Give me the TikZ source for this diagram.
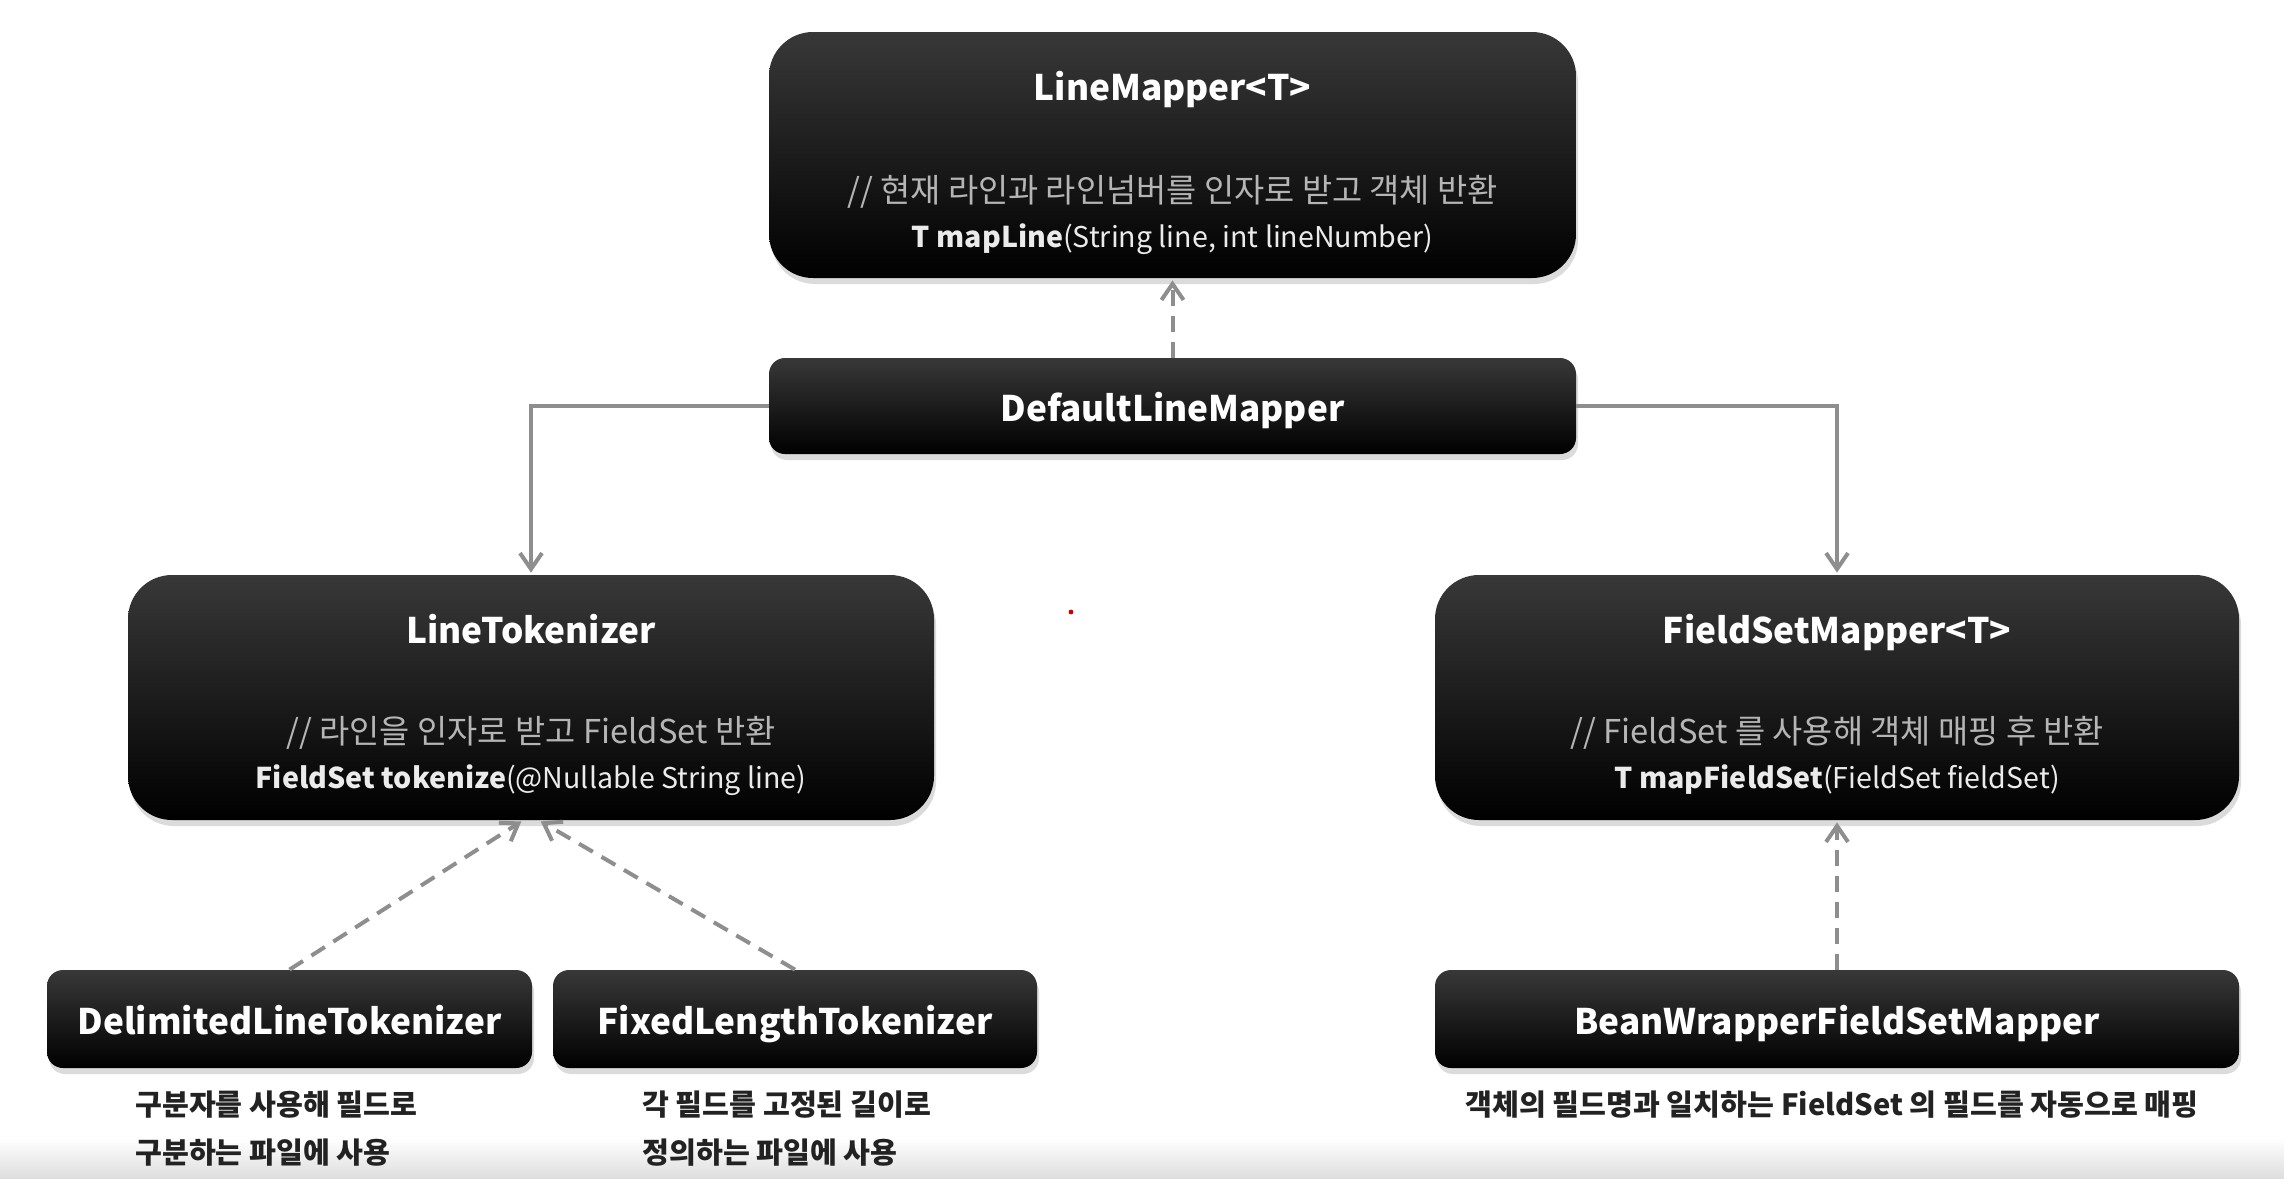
\documentclass[tikz,border=0pt]{standalone}
\usepackage{fontspec}
\setmainfont{Noto Sans CJK KR}
\usetikzlibrary{arrows.meta,shadows}
\definecolor{conncol}{HTML}{8E8E8E}
\definecolor{commentcol}{HTML}{B5B5B5}
\definecolor{captioncol}{HTML}{222222}
\tikzset{
  boxbase/.style={rounded corners=#1, top color=black!78, middle color=black, bottom color=black, draw=none,
    drop shadow={opacity=0.28, shadow xshift=1pt, shadow yshift=-3pt}},
  bigbox/.style={boxbase=22pt},
  smallbox/.style={boxbase=8pt},
  evenbox/.style={inner sep=0pt, text height=0.78em, text depth=0.24em},
  titletext/.style={evenbox, text=white, font=\bfseries\fontsize{17.6}{21}\selectfont},
  commenttext/.style={evenbox, text=commentcol, font=\fontsize{16.4}{19}\selectfont},
  sigtext/.style={evenbox, text=white!92!black, font=\fontsize{14.3}{17}\selectfont},
  captiontext/.style={evenbox, text=captioncol, font=\bfseries\fontsize{14.6}{17}\selectfont},
  conn/.style={draw=conncol, line width=2pt, -{Straight Barb[length=8pt, width=11pt, line width=2pt]}, shorten >=1pt},
  dconn/.style={conn, dash pattern=on 8pt off 5pt},
}
\begin{document}
\begin{tikzpicture}[x=0.5pt, y=-0.5pt]
\useasboundingbox (0,0) rectangle (2284,1178);
\fill[white] (0,0) rectangle (2284,1178);
\shade[top color=white, bottom color=black!13] (0,1138) rectangle (2284,1178);

% boxes
\node[bigbox, minimum width=403.5pt, minimum height=123pt] (lm) at (1172.5,155) {};
\node[smallbox, minimum width=403.5pt, minimum height=48pt] (dlm) at (1172.5,406) {};
\node[bigbox, minimum width=403pt, minimum height=122.5pt] (lt) at (531,697.5) {};
\node[bigbox, minimum width=402pt, minimum height=122.5pt] (fsm) at (1837,697.5) {};
\node[smallbox, minimum width=242.5pt, minimum height=49pt] (dlt) at (289.5,1019) {};
\node[smallbox, minimum width=242pt, minimum height=49pt] (flt) at (795,1019) {};
\node[smallbox, minimum width=402pt, minimum height=49pt] (bean) at (1837,1019) {};

% texts
\node[titletext] (lmT) at (1172.5,95) {LineMapper<T>};
\node[commenttext] (lmC) at (1172.5,197) {// 현재 라인과 라인넘버를 인자로 받고 객체 반환};
\node[sigtext] (lmS) at (1172.5,242) {\textbf{T mapLine}(String line, int lineNumber)};

\node[titletext] (dlmT) at (1172.5,416) {DefaultLineMapper};

\node[titletext] (ltT) at (531,638) {LineTokenizer};
\node[commenttext] (ltC) at (531,738) {// 라인을 인자로 받고 FieldSet 반환};
\node[sigtext] (ltS) at (531,783) {\textbf{FieldSet tokenize}(@Nullable String line)};

\node[titletext] (fsmT) at (1837,638) {FieldSetMapper<T>};
\node[commenttext] (fsmC) at (1837,738) {// FieldSet 를 사용해 객체 매핑 후 반환};
\node[sigtext] (fsmS) at (1837,783) {\textbf{T mapFieldSet}(FieldSet fieldSet)};

\node[titletext] (dltT) at (289.5,1029) {DelimitedLineTokenizer};
\node[titletext] (fltT) at (795,1029) {FixedLengthTokenizer};
\node[titletext] (beanT) at (1837,1029) {BeanWrapperFieldSetMapper};

% captions
\node[captiontext, anchor=west] (dltC1) at (135,1110) {구분자를 사용해 필드로};
\node[captiontext, anchor=west] (dltC2) at (135,1158) {구분하는 파일에 사용};
\node[captiontext, anchor=west] (fltC1) at (642,1110) {각 필드를 고정된 길이로};
\node[captiontext, anchor=west] (fltC2) at (642,1158) {정의하는 파일에 사용};
\node[captiontext] (beanC) at (1832,1110) {객체의 필드명과 일치하는 FieldSet 의 필드를 자동으로 매핑};

% connectors
\draw[conn] (dlm.west) -| (lt.north);
\draw[conn] (dlm.east) -| (fsm.north);
\draw[dconn] (dlm.north) -- (lm.south);
\draw[dconn] (dlt.north) -- ([xshift=-4pt]lt.south);
\draw[dconn] (flt.north) -- ([xshift=4pt]lt.south);
\draw[dconn] (bean.north) -- (fsm.south);

\fill[red!80!black] (1071,612) circle (1.2pt);
\end{tikzpicture}
\end{document}
